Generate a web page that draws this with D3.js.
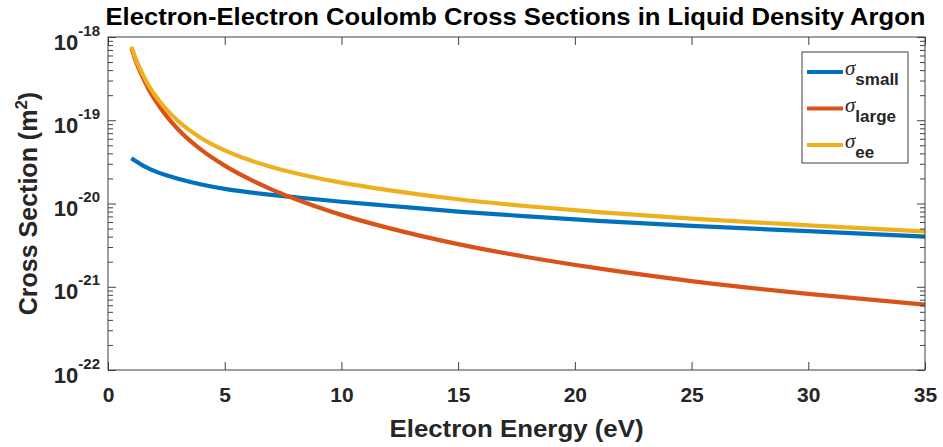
<!DOCTYPE html>
<html><head><meta charset="utf-8">
<script src="https://cdn.jsdelivr.net/npm/d3@7"></script>
<style>body{margin:0;background:#fff}svg{display:block}</style>
</head><body><svg id="c" width="943" height="447"></svg>
<script>
// ---- data ----
const energy = [1, 1.25, 1.5, 1.75, 2, 2.5, 3, 4, 5, 6, 7, 8, 10, 12, 15, 18, 21, 25, 30, 35];
const sigmaSmall = [3.50e-20, 3.15e-20, 2.85e-20, 2.63e-20, 2.45e-20, 2.18e-20, 1.98e-20, 1.69e-20, 1.50e-20, 1.37e-20, 1.27e-20, 1.19e-20, 1.05e-20, 0.94e-20, 0.80e-20, 0.70e-20, 0.62e-20, 0.54e-20, 0.465e-20, 0.40e-20];
const sigmaLarge = [73e-20, 46.4e-20, 32.2e-20, 23.3e-20, 17.8e-20, 11.3e-20, 7.8e-20, 4.4e-20, 2.85e-20, 2.0e-20, 1.48e-20, 1.14e-20, 0.73e-20, 0.51e-20, 0.325e-20, 0.226e-20, 0.166e-20, 0.117e-20, 0.082e-20, 0.061e-20];
const sigmaEE = [76.5e-20, 49.55e-20, 35.05e-20, 25.93e-20, 20.25e-20, 13.48e-20, 9.78e-20, 6.09e-20, 4.35e-20, 3.37e-20, 2.75e-20, 2.33e-20, 1.78e-20, 1.45e-20, 1.125e-20, 0.926e-20, 0.786e-20, 0.657e-20, 0.547e-20, 0.461e-20];
const seriesNames = ["small", "large", "ee"];
const xTicks = [0, 5, 10, 15, 20, 25, 30, 35];
const yExponents = [-22, -21, -20, -19, -18];
const titleText = "Electron-Electron Coulomb Cross Sections in Liquid Density Argon";
const xLabel = "Electron Energy (eV)";

// ---- layout ----
const L = 108, R = 925, T = 37, B = 370;
const colors = ["#0072BD", "#D95319", "#EDB120"];
const axisColor = "#404040";
const font = "'Liberation Sans', Arial, Helvetica, sans-serif";

const svg = d3.select("#c");
const x = d3.scaleLinear().domain([0, 35]).range([L, R]);
const y = d3.scaleLog().domain([1e-22, 1e-18]).range([B, T]);

const series = [sigmaSmall, sigmaLarge, sigmaEE];

// curves
const line = d3.line().x(d => x(d[0])).y(d => y(d[1])).curve(d3.curveMonotoneX);
series.forEach((s, i) => {
  svg.append("path")
    .datum(energy.map((e, j) => [e, s[j]]))
    .attr("d", line)
    .attr("fill", "none")
    .attr("stroke", colors[i])
    .attr("stroke-width", 4.2)
    .attr("stroke-linecap", "butt")
    .attr("stroke-linejoin", "round");
});

// minor and major log ticks
const majors = yExponents.map(e => Math.pow(10, e));
const minors = [];
for (let e = -22; e < -18; e++) for (let m = 2; m <= 9; m++) minors.push(m * Math.pow(10, e));

function styleAxis(g) {
  g.select(".domain").remove();
  g.selectAll("line").attr("stroke", axisColor).attr("stroke-width", 1);
}

// x axes (bottom & top), ticks inward
svg.append("g").attr("transform", `translate(0,${B})`)
  .call(d3.axisBottom(x).tickValues(xTicks).tickSizeInner(-8).tickSizeOuter(0).tickPadding(17).tickFormat(d3.format("d")))
  .call(styleAxis)
  .call(g => g.selectAll("text").attr("font-family", font).attr("font-weight", "bold").attr("font-size", 21).attr("fill", "#262626"));
svg.append("g").attr("transform", `translate(0,${T})`)
  .call(d3.axisTop(x).tickValues(xTicks).tickSizeInner(-8).tickSizeOuter(0).tickFormat(""))
  .call(styleAxis);

// y axes minor
svg.append("g").attr("transform", `translate(${L},0)`)
  .call(d3.axisLeft(y).tickValues(minors).tickSizeInner(-5).tickSizeOuter(0).tickFormat(""))
  .call(styleAxis);
svg.append("g").attr("transform", `translate(${R},0)`)
  .call(d3.axisRight(y).tickValues(minors).tickSizeInner(-5).tickSizeOuter(0).tickFormat(""))
  .call(styleAxis);
// y axes major
const yl = svg.append("g").attr("transform", `translate(${L},0)`)
  .call(d3.axisLeft(y).tickValues(majors).tickSizeInner(-8).tickSizeOuter(0).tickFormat(""))
  .call(styleAxis);
svg.append("g").attr("transform", `translate(${R},0)`)
  .call(d3.axisRight(y).tickValues(majors).tickSizeInner(-8).tickSizeOuter(0).tickFormat(""))
  .call(styleAxis);

yl.selectAll(".tick").each(function (d) {
  const e = Math.round(Math.log10(d));
  const t = d3.select(this).append("text")
    .attr("x", -8).attr("y", 12)
    .attr("text-anchor", "end")
    .attr("font-family", font).attr("font-weight", "bold").attr("fill", "#262626");
  t.append("tspan").attr("font-size", 22).text("10");
  t.append("tspan").attr("font-size", 15).attr("dy", -14).text(String(e));
});

// box
svg.append("rect").attr("x", L).attr("y", T).attr("width", R - L).attr("height", B - T)
  .attr("fill", "none").attr("stroke", axisColor).attr("stroke-width", 1);

// title
svg.append("text").attr("x", (L + R) / 2 - 1).attr("y", 25).attr("text-anchor", "middle")
  .attr("font-family", font).attr("font-weight", "bold").attr("font-size", 24).attr("fill", "#000")
  .attr("textLength", 820).attr("lengthAdjust", "spacingAndGlyphs")
  .text(titleText);

// x label
svg.append("text").attr("x", (L + R) / 2).attr("y", 437).attr("text-anchor", "middle")
  .attr("font-family", font).attr("font-weight", "bold").attr("font-size", 24).attr("fill", "#262626")
  .attr("textLength", 254).attr("lengthAdjust", "spacingAndGlyphs")
  .text(xLabel);

// y label
const ylab = svg.append("text").attr("transform", `translate(37,${(T + B) / 2}) rotate(-90)`)
  .attr("text-anchor", "middle")
  .attr("font-family", font).attr("font-weight", "bold").attr("font-size", 25).attr("fill", "#262626");
ylab.append("tspan").text("Cross Section (m");
ylab.append("tspan").attr("font-size", 17).attr("dy", -10).text("2");
ylab.append("tspan").attr("dy", 10).text(")");

// legend
const lg = svg.append("g");
lg.append("rect").attr("x", 802).attr("y", 52).attr("width", 106).attr("height", 111)
  .attr("fill", "#fff").attr("stroke", axisColor).attr("stroke-width", 1);
seriesNames.forEach((n, i) => {
  const cy = 72 + i * 36.5;
  lg.append("line").attr("x1", 807).attr("x2", 843).attr("y1", cy).attr("y2", cy)
    .attr("stroke", colors[i]).attr("stroke-width", 4);
  const t = lg.append("text").attr("x", 845).attr("y", cy + 3).attr("fill", "#262626");
  t.append("tspan").attr("font-family", "'Liberation Serif', 'Times New Roman', serif")
    .attr("font-style", "italic").attr("font-size", 21).text("σ");
  t.append("tspan").attr("font-family", font).attr("font-weight", "bold")
    .attr("font-size", 17).attr("dy", 10).text(n);
});
</script>
</body></html>
